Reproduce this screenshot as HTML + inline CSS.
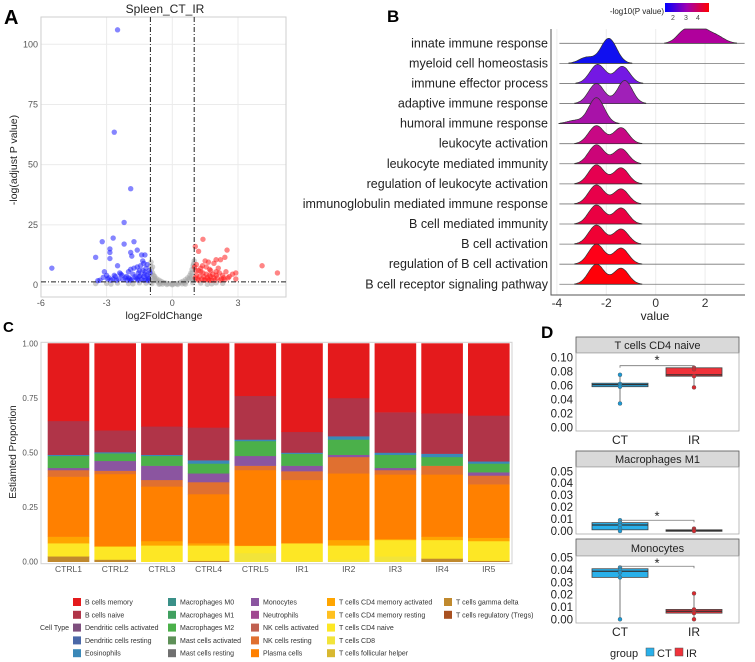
<!DOCTYPE html>
<html><head><meta charset="utf-8">
<style>
html,body{margin:0;padding:0;background:#fff;}
svg{display:block;font-family:"Liberation Sans",Arial,sans-serif;}
</style></head>
<body>
<svg id="fig" width="755" height="662" viewBox="0 0 755 662" xmlns="http://www.w3.org/2000/svg">
<g id="pA"></g>
<g id="pB"></g>
<g id="pC"></g>
<g id="pD"></g>
</svg>
<script>
// ---------- Panel A data ----------
const blueX=[-2.5,-2.65,-1.9,-2.2,-2.7,-3.2,-1.75,-2.2,-2.85,-2.85,-1.9,-1.6,-1.85,-1.4,-1.25,-3.5,-2.85,-1.35,-1.3,-2.5,-5.5,-1.9,-1.5,-3.1,-2.4,-1.2,-3.3,-2.1,-3.0,-2.9,-2.7,-2.6,-2.3,-2.0,-1.8,-1.7,-1.55,-1.45,-1.35,-1.25,-1.15,-1.05,-2.95,-2.45,-2.15,-1.95,-1.65,-1.5,-1.3,-1.1,-2.8,-2.55,-2.25,-2.05,-1.85,-1.6,-1.4,-1.2,-1.08,-3.15,-2.35,-1.75,-1.45,-1.15,-1.02,-2.65,-1.9,-1.55,-1.3,-3.4,-1.1,-1.25,-2.0,-1.6];
const blueY=[106,63.5,40,26,19.5,18,18,17,15,13.5,13.5,14.5,12,12.5,12.5,11.5,11,10,9,8,7,6.5,6,5.5,5,7,2,3.5,4,3,2.5,3.5,4,3,4.5,3.5,5,4,6,5.5,4,6,2.5,2.5,3,2.5,3,3.5,3.5,3,2,2,2.2,2,2.2,2.5,2.4,2.2,2.6,3.2,4.5,7,8,8.5,5,4,2,2,2,1.8,1.9,4.5,5.5,7.5];
const redX=[1.4,1.05,1.2,2.5,2.4,2.2,2.0,1.5,1.9,1.65,1.1,4.1,2.9,2.75,4.8,2.55,2.9,2.1,1.7,1.2,1.3,1.4,1.55,1.7,1.85,2.0,2.15,2.3,2.45,1.1,1.25,1.45,1.6,1.75,1.9,2.05,2.25,1.05,1.15,1.35,1.5,1.65,1.8,1.95,2.2,2.4,2.6,1.08,1.3,1.55,1.75,2.0,1.2,1.45,1.7,1.02,1.38,2.35];
const redY=[19,16,14,14.5,11.5,10.5,10.5,10,9,9.5,8.5,8,5,4.5,5,3,2.5,7,6.5,6,5.5,5,4.5,4,4.5,4,5,4,5.5,4,3.5,3.5,3,3.5,3,3,2.5,3,2.5,2.5,2.2,2.2,2,2,2,2.2,3.5,6,7,7.5,6,5.5,2,2,2,7.5,8,3];
const greyX=[-1.0,-0.95,-0.9,-0.85,-0.8,-0.7,-0.6,-0.5,-0.4,-0.3,-0.2,-0.1,0,0.1,0.2,0.3,0.4,0.5,0.6,0.7,0.8,0.85,0.9,0.95,1.0,-0.98,-0.92,-0.88,-0.75,-0.65,0.65,0.75,0.88,0.92,0.98,-0.97,-0.9,-0.8,0.8,0.9,0.97,-0.55,-0.45,0.45,0.55,-2.5,-2.0,-1.5,-3.0,-1.8,-2.8,-1.2,1.3,1.8,2.3,1.6,2.0,-3.5,0,-0.25,0.25,-0.6,0.6,-0.99,0.99,-0.93,0.93];
const greyY=[8,6.5,5,4,3.5,2.5,2,1.5,1,0.8,0.6,0.5,0.4,0.5,0.6,0.8,1.2,1.6,2.2,3,4,5,6.5,8,10,4.5,3,2,1.8,1.2,1.5,2.4,3.2,5,7,9.5,7.5,2.8,3,2.5,8.8,0.6,0.4,0.5,0.8,0.8,0.6,0.9,0.7,0.5,0.4,0.8,0.8,0.5,0.7,0.3,0.9,0.6,0.1,0.2,0.2,0.3,0.4,1.0,2.0,0.6,1.0];
const aXTicks=[-6,-3,0,3];
const aYTicks=[0,25,50,75,100];

// ---------- Panel B data ----------
const terms=["innate immune response","myeloid cell homeostasis","immune effector process","adaptive immune response","humoral immune response","leukocyte activation","leukocyte mediated immunity","regulation of leukocyte activation","immunoglobulin mediated immune response","B cell mediated immunity","B cell activation","regulation of B cell activation","B cell receptor signaling pathway"];
const termColors=["#b0009c","#1010f0","#7418e4","#a020b8","#a812a8","#c80884","#cc0478","#e60050","#e8004a","#ea0042","#f00034","#ff0018","#ff0008"];
const peakA=[1.2,-1.9,-2.35,-2.4,-2.4,-2.4,-2.4,-2.4,-2.4,-2.4,-2.4,-2.4,-2.4];
const peakAh=[13,25,19,20,26,18,19,19,19,19,19,20,20];
const peakB=[1.8,-2.8,-1.35,-1.25,-3.3,-1.4,-1.4,-1.4,-1.4,-1.4,-1.4,-1.4,-1.4];
const peakBh=[13,6,17,23,3,16,15,16,15,16,15,16,16];
const peakC=[2.4,0,0,0,0,0,0,0,0,0,0,0,0];
const peakCh=[8,0,0,0,0,0,0,0,0,0,0,0,0];
const bXTicks=[-4,-2,0,2];

// ---------- Panel C data ----------
const samples=["CTRL1","CTRL2","CTRL3","CTRL4","CTRL5","IR1","IR2","IR3","IR4","IR5"];
const Tgd      =[0.025,0.01,0,0.005,0,0,0,0,0.015,0.005];
const TCD8     =[0,0,0,0,0.04,0.005,0.01,0.025,0,0];
const TCD4naive=[0.06,0.06,0.075,0.07,0.033,0.08,0.065,0.075,0.085,0.09];
const TCD4mem  =[0.03,0.002,0.02,0.01,0.002,0,0.025,0.005,0.015,0.015];
const plasma   =[0.275,0.33,0.25,0.225,0.345,0.29,0.305,0.295,0.285,0.245];
const NKrest   =[0.03,0.015,0.03,0.055,0.02,0.04,0.075,0.02,0.04,0.04];
const mono     =[0.01,0.045,0.065,0.04,0.045,0.025,0.01,0.01,0,0.015];
const macM2    =[0.055,0.035,0.045,0.045,0.068,0.055,0.07,0.06,0.04,0.04];
const eosin    =[0.005,0.005,0.005,0.015,0.007,0.005,0.015,0.01,0.015,0.01];
const Bnaive   =[0.155,0.1,0.13,0.15,0.2,0.095,0.175,0.185,0.185,0.21];
const Bmem     =[0.355,0.398,0.38,0.385,0.24,0.405,0.25,0.315,0.32,0.33];
const stackSeries=[Tgd,TCD8,TCD4naive,TCD4mem,plasma,NKrest,mono,macM2,eosin,Bnaive,Bmem];
const stackColors=["#c0892e","#f2e43a","#fde725","#ffa500","#ff8000","#e07030","#8b55a0","#4bb04a","#3a88b8","#b03448","#e41a1c"];
const stackNames=["t-gamma-delta","t-cd8","t-cd4-naive","t-cd4-mem-act","plasma","nk-resting","monocytes","macrophages-m2","eosinophils","b-naive","b-memory"];
const cYTicks=[0,0.25,0.5,0.75,1];
const legendNames=["B cells memory","B cells naive","Dendritic cells activated","Dendritic cells resting","Eosinophils","Macrophages M0","Macrophages M1","Macrophages M2","Mast cells activated","Mast cells resting","Monocytes","Neutrophils","NK cells activated","NK cells resting","Plasma cells","T cells CD4 memory activated","T cells CD4 memory resting","T cells CD4 naive","T cells CD8","T cells follicular helper","T cells gamma delta","T cells regulatory (Tregs)"];
const legendColors=["#e41a1c","#b03448","#7e4f7e","#4a68a8","#3a88b8","#3a9088","#40a060","#4bb04a","#5e9058","#707070","#8b55a0","#a04890","#c06050","#e07030","#ff8000","#ffa500","#ffc020","#fde725","#f2e43a","#d8b830","#c0892e","#a85020"];

// ---------- Panel D data ----------
const dFacets=["T cells CD4 naive","Macrophages M1","Monocytes"];
const ctPts=[[0.075,0.062,0.060,0.058,0.034],[0.009,0.007,0.005,0.002,0.000],[0.042,0.040,0.038,0.034,0.000]];
const irPts=[[0.085,0.083,0.073,0.057],[0.002,0.001,0.000],[0.021,0.008,0.006,0.005,0.000]];
const ctBox=[[0.058,0.061,0.063],[0.001,0.005,0.007],[0.034,0.039,0.041]];
const irBox=[[0.073,0.075,0.085],[0.000,0.0003,0.001],[0.005,0.0065,0.008]];
const sigY=[0.088,0.009,0.043];
const starY=[0.098,0.014,0.047];
const dTicks=[[0,0.02,0.04,0.06,0.08,0.10],[0,0.01,0.02,0.03,0.04,0.05],[0,0.01,0.02,0.03,0.04,0.05]];
const dTickLbl=[["0.00","0.02","0.04","0.06","0.08","0.10"],["0.00","0.01","0.02","0.03","0.04","0.05"],["0.00","0.01","0.02","0.03","0.04","0.05"]];

const NS="http://www.w3.org/2000/svg";
function mk(parent,tag,attrs,text){const e=document.createElementNS(NS,tag);for(const k in attrs)e.setAttribute(k,attrs[k]);if(text!==undefined)e.textContent=text;parent.appendChild(e);return e;}

// ===== Panel A =====
(function(){
const g=document.getElementById('pA');
const ax=v=>172.3+v*21.9, ay=v=>285-2.407*v;
let t=mk(g,'text',{x:4,y:24,'font-size':20,'font-weight':'bold'},'A');


t=mk(g,'text',{x:165,y:13,'font-size':12,'text-anchor':'middle',fill:'#222'},'Spleen_CT_IR');


for(const v of aXTicks){const l=mk(g,'line',{x1:ax(v),x2:ax(v),y1:17,y2:297,stroke:'#ebebeb','stroke-width':1});

}
for(const v of aYTicks){const l=mk(g,'line',{x1:41,x2:286,y1:ay(v),y2:ay(v),stroke:'#ebebeb','stroke-width':1});

}
const fr=mk(g,'rect',{x:41,y:17,width:245,height:280,fill:'none',stroke:'#cfcfcf','stroke-width':1});


function pts(X,Y,c,name){for(let i=0;i<X.length;i++){const p=mk(g,'circle',{cx:ax(X[i]),cy:ay(Y[i]),r:2.7,fill:c,'fill-opacity':0.55});

}}
pts(greyX,greyY,'#a8a8a8','grey-point');
pts(blueX,blueY,'#2020ff','down-point');
pts(redX,redY,'#ff2020','up-point');
for(const v of [-1,1]){const l=mk(g,'line',{x1:ax(v),x2:ax(v),y1:17,y2:297,stroke:'#222','stroke-width':1,'stroke-dasharray':'5,2,1,2'});

}
const h=mk(g,'line',{x1:41,x2:286,y1:ay(1.3),y2:ay(1.3),stroke:'#222','stroke-width':1,'stroke-dasharray':'5,2,1,2'});


for(const v of aXTicks){const s=mk(g,'text',{x:ax(v),y:306,'font-size':9,'text-anchor':'middle',fill:'#555'},String(v));

}
for(const v of aYTicks){const s=mk(g,'text',{x:38,y:ay(v)+3,'font-size':9,'text-anchor':'end',fill:'#555'},String(v));

}
t=mk(g,'text',{x:164,y:319,'font-size':10.5,'text-anchor':'middle',fill:'#222'},'log2FoldChange');


t=mk(g,'text',{x:0,y:0,'font-size':10.5,'text-anchor':'middle',fill:'#222',transform:'translate(17,160) rotate(-90)'},'-log(adjust P value)');


})();

// ===== Panel B =====
(function(){
const g=document.getElementById('pB');
const bx=v=>655.7+24.7*v;
const base=i=>43.3+i*20.08;
let t=mk(g,'text',{x:387,y:22,'font-size':17,'font-weight':'bold'},'B');


const defs=mk(g,'defs',{});
const gr=mk(defs,'linearGradient',{id:'pg',x1:0,x2:1,y1:0,y2:0});
mk(gr,'stop',{offset:'0','stop-color':'#0000ff'});mk(gr,'stop',{offset:'0.5','stop-color':'#a000b0'});mk(gr,'stop',{offset:'1','stop-color':'#ff0000'});
t=mk(g,'text',{x:664,y:14,'font-size':8,'text-anchor':'end',fill:'#222'},'-log10(P value)');


const cb=mk(g,'rect',{x:665,y:3,width:44,height:9,fill:'url(#pg)'});


[['2',673],['3',686],['4',698]].forEach(a=>{const s=mk(g,'text',{x:a[1],y:20,'font-size':7,'text-anchor':'middle',fill:'#444'},a[0]);

});
for(const v of bXTicks){const l=mk(g,'line',{x1:bx(v),x2:bx(v),y1:29,y2:295,stroke:'#ececec'});

}
for(let i=0;i<terms.length;i++){
 const y0=base(i);
 const bl=mk(g,'line',{x1:bx(-3.9),x2:bx(3.6),y1:y0,y2:y0,stroke:'#777','stroke-width':0.8});
 
 
}
for(let i=0;i<terms.length;i++){
 const y0=base(i);
 const dens=x=>peakAh[i]*Math.exp(-Math.pow(x-peakA[i],2)/(2*0.1))+peakBh[i]*Math.exp(-Math.pow(x-peakB[i],2)/(2*0.09))+peakCh[i]*Math.exp(-Math.pow(x-peakC[i],2)/(2*0.12));
 let pts=[];
 for(let x=-4;x<=3.6;x+=0.04){let h=dens(x);if(h<0.3)continue;pts.push([bx(x),Math.max(29,y0-h)]);}
 if(!pts.length)continue;
 let d='M'+pts[0][0].toFixed(1)+','+y0+' '+pts.map(p=>'L'+p[0].toFixed(1)+','+p[1].toFixed(1)).join(' ')+' L'+pts[pts.length-1][0].toFixed(1)+','+y0+'Z';
 const r=mk(g,'path',{d:d,fill:termColors[i],stroke:'#333','stroke-width':0.7});
 
 
 const s=mk(g,'text',{x:548,y:y0+4,'font-size':12.5,'text-anchor':'end',fill:'#222'},terms[i]);
 
 
}
const ax=mk(g,'path',{d:'M551,29 L551,295 L745,295',fill:'none',stroke:'#555','stroke-width':1});


for(const v of bXTicks){const s=mk(g,'text',{x:bx(v),y:307,'font-size':12,'text-anchor':'middle',fill:'#333'},String(v));

}
t=mk(g,'text',{x:655,y:320,'font-size':12,'text-anchor':'middle',fill:'#222'},'value');


})();

// ===== Panel C =====
(function(){
const g=document.getElementById('pC');
const cy=v=>561.7-218.4*v;
let t=mk(g,'text',{x:3,y:332,'font-size':15,'font-weight':'bold'},'C');


const fr=mk(g,'rect',{x:41,y:cy(1)-1,width:471,height:cy(0)-cy(1)+3,fill:'none',stroke:'#d0d0d0'});


for(let s=0;s<samples.length;s++){
 const xc=68.5+s*46.7;let acc=0;
 for(let k=0;k<stackSeries.length;k++){
  const v=stackSeries[k][s];if(v<=0)continue;
  const r=mk(g,'rect',{x:xc-20.8,y:cy(acc+v),width:41.6,height:218.4*v+0.3,fill:stackColors[k]});
  
  
  acc+=v;
 }
 const l=mk(g,'text',{x:xc,y:572,'font-size':8.5,'text-anchor':'middle',fill:'#555'},samples[s]);
 
 
}
for(const v of cYTicks){const s=mk(g,'text',{x:38,y:cy(v)+3,'font-size':8,'text-anchor':'end',fill:'#555'},v.toFixed(2));

}
t=mk(g,'text',{x:0,y:0,'font-size':10,'text-anchor':'middle',fill:'#222',transform:'translate(16,452) rotate(-90)'},'Estiamted Proportion');


t=mk(g,'text',{x:40,y:630,'font-size':7,fill:'#333'},'Cell Type');


const colX=[73,168,251,327,444], rowY=[602,614.8,627.6,640.4,653.2];
const perCol=[5,5,5,5,2];let idx=0;
for(let c=0;c<5;c++)for(let r=0;r<perCol[c];r++){
 const sw=mk(g,'rect',{x:colX[c],y:rowY[r]-4,width:8,height:8,fill:legendColors[idx]});
 
 
 const lt=mk(g,'text',{x:colX[c]+12,y:rowY[r]+2.5,'font-size':7,fill:'#333'},legendNames[idx]);
 
 
 idx++;
}
})();

// ===== Panel D =====
(function(){
const g=document.getElementById('pD');
let t=mk(g,'text',{x:541,y:338,'font-size':17,'font-weight':'bold'},'D');


const strips=[[337,353,431,427.3,700],[451,467,534,531,1194],[539,556,623,619.3,1233]];
const ctX=620,irX=694;
for(let f=0;f<3;f++){
 const [s0,p0,p1,zeroY,scale]=strips[f];
 const fy=v=>zeroY-scale*v;
 const st=mk(g,'rect',{x:576,y:s0,width:163,height:p0-s0,fill:'#d9d9d9',stroke:'#555','stroke-width':0.8});
 
 
 const sl=mk(g,'text',{x:657.5,y:p0-4,'font-size':11,'text-anchor':'middle',fill:'#222'},dFacets[f]);
 
 
 const fr=mk(g,'rect',{x:576,y:p0,width:163,height:p1-p0,fill:'#fff',stroke:'#aaa','stroke-width':0.8});
 
 
 for(let k=0;k<dTicks[f].length;k++){
  const s=mk(g,'text',{x:573,y:fy(dTicks[f][k])+4,'font-size':11.5,'text-anchor':'end',fill:'#222'},dTickLbl[f][k]);
  
  
 }
 function box(xc,b,pts,col,pcol,name){
  const mn=Math.min(...pts),mx=Math.max(...pts);
  const w=mk(g,'line',{x1:xc,x2:xc,y1:fy(mx),y2:fy(mn),stroke:'#555','stroke-width':0.8});
  
  
  const r=mk(g,'rect',{x:xc-28,y:fy(b[2]),width:56,height:Math.max(1.5,fy(b[0])-fy(b[2])),fill:col,stroke:'#444','stroke-width':0.8});
  
  
  const m=mk(g,'line',{x1:xc-28,x2:xc+28,y1:fy(b[1]),y2:fy(b[1]),stroke:'#333','stroke-width':1.2});
  
  
  for(const p of pts){const c=mk(g,'circle',{cx:xc,cy:fy(p),r:2,fill:pcol,stroke:'#555','stroke-width':0.4});
  
  }
 }
 box(ctX,ctBox[f],ctPts[f],'#29b0ea','#1a9ad6','ct');
 box(irX,irBox[f],irPts[f],'#f0323a','#d8282e','ir');
 const sb=mk(g,'path',{d:`M${ctX},${fy(sigY[f])+2} L${ctX},${fy(sigY[f])} L${irX},${fy(sigY[f])} L${irX},${fy(sigY[f])+2}`,fill:'none',stroke:'#777','stroke-width':0.8});
 
 
 const sr=mk(g,'text',{x:657,y:fy(starY[f])+6,'font-size':13,'text-anchor':'middle',fill:'#222'},'*');
 
 
 if(f!==1){
  const yl=p1+13;
  const a=mk(g,'text',{x:ctX,y:yl,'font-size':12,'text-anchor':'middle',fill:'#222'},'CT');
  
  
  const b=mk(g,'text',{x:irX,y:yl,'font-size':12,'text-anchor':'middle',fill:'#222'},'IR');
  
  
 }
}
t=mk(g,'text',{x:610,y:657,'font-size':11,fill:'#222'},'group');


const s1=mk(g,'rect',{x:646,y:648,width:8,height:8,fill:'#29b0ea',stroke:'#555','stroke-width':0.5});


t=mk(g,'text',{x:657,y:657,'font-size':11,fill:'#222'},'CT');


const s2=mk(g,'rect',{x:675,y:648,width:8,height:8,fill:'#f0323a',stroke:'#555','stroke-width':0.5});


t=mk(g,'text',{x:686,y:657,'font-size':11,fill:'#222'},'IR');


})();
</script>
</body></html>
